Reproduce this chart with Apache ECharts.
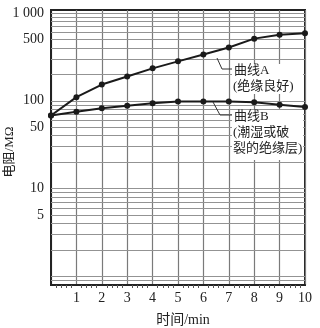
<!DOCTYPE html>
<html><head><meta charset="utf-8">
<script src="https://cdn.jsdelivr.net/npm/echarts@6/dist/echarts.min.js"></script>
<style>html,body{margin:0;padding:0;background:#fff}#c{width:320px;height:328px}</style>
</head><body><div id="c"></div>
<script>
const minutes = [0,1,2,3,4,5,6,7,8,9,10];
const curveA = [68,110,153,189,234,281,337,404,510,565,588];
const curveB = [68,75,82,88,94,98,98,98,96,90,85];
const yLabels = [5,10,50,100,500,1000];
const xLabels = [1,2,3,4,5,6,7,8,9,10];
const gridValues = [0.9,1,2,3,4,5,6,7,8,9,10,20,30,40,50,60,70,80,90,100,200,300,400,500,600,700,800,900,1000];

const serif = "'Liberation Serif','Noto Sans CJK SC',serif";
const chart = echarts.init(document.getElementById('c'), null, {renderer:'canvas'});
const pairs = arr => minutes.map((m,i)=>[m, arr[i]]);
chart.setOption({
  animation:false,
  grid:{left:51, right:15, top:10, bottom:43, containLabel:false, outerBoundsMode:'none',
    show:true, borderColor:'#222', borderWidth:2, backgroundColor:'transparent'},
  xAxis:{type:'value', min:0, max:10, interval:1,
    axisLine:{show:true, lineStyle:{color:'#222', width:2}},
    axisTick:{show:false},
    minorTick:{show:true, splitNumber:5, length:3, lineStyle:{color:'#555'}},
    splitLine:{show:true, lineStyle:{color:'#7a7a7a', width:1.2}},
    axisLabel:{color:'#222', fontFamily:serif, fontSize:14, margin:6,
      customValues:xLabels, formatter:v=>String(v)},
    name:'时间/min', nameLocation:'middle', nameGap:28,
    nameTextStyle:{color:'#222', fontFamily:serif, fontSize:14, padding:[0,0,0,10]}
  },
  yAxis:{type:'log', logBase:10, min:0.8, max:1080,
    axisLine:{show:true, lineStyle:{color:'#222', width:2}},
    axisTick:{show:false},
    splitLine:{show:false},
    axisLabel:{color:'#222', fontFamily:serif, fontSize:14, margin:7,
      customValues:yLabels, formatter:v=> v===1000 ? '1 000' : String(v)}
  },
  series:[
    {type:'line', data:[], silent:true, z:1,
      markLine:{silent:true, symbol:'none', label:{show:false},
        lineStyle:{color:'#939393', width:1.2, type:'solid'},
        data:gridValues.map(v=>({yAxis:v}))}},
    {name:'曲线A', type:'line', data:pairs(curveA), z:5,
      symbol:'circle', symbolSize:6, itemStyle:{color:'#1a1a1a'},
      lineStyle:{color:'#1a1a1a', width:2}},
    {name:'曲线B', type:'line', data:pairs(curveB), z:5,
      symbol:'circle', symbolSize:6, itemStyle:{color:'#1a1a1a'},
      lineStyle:{color:'#1a1a1a', width:2}}
  ],
  graphic:[
    {type:'text', x:10, y:152, rotation:Math.PI/2, style:{text:'电阻/MΩ', font:"13px 'Liberation Serif','Noto Sans CJK SC'", fill:'#222', align:'center', verticalAlign:'middle'}, z:11},
    {type:'polyline', shape:{points:[[217,58],[222,69],[232,69]]}, style:{stroke:'#333', lineWidth:1, fill:null}, z:10},
    {type:'polyline', shape:{points:[[213,102],[220,115],[232,115]]}, style:{stroke:'#333', lineWidth:1, fill:null}, z:10},
    {type:'rect', shape:{x:232,y:64,width:71,height:30}, style:{fill:'#fff'}, z:9},
    {type:'text', left:234, top:64, style:{text:'曲线A', font:"13px 'Liberation Serif','Noto Sans CJK SC'", fill:'#222'}, z:11},
    {type:'text', left:233, top:80, style:{text:'(绝缘良好)', font:"13px 'Liberation Serif','Noto Sans CJK SC'", fill:'#222'}, z:11},
    {type:'rect', shape:{x:232,y:110,width:71,height:50}, style:{fill:'#fff'}, z:9},
    {type:'text', left:234, top:110, style:{text:'曲线B', font:"13px 'Liberation Serif','Noto Sans CJK SC'", fill:'#222'}, z:11},
    {type:'text', left:233, top:126, style:{text:'(潮湿或破', font:"13px 'Liberation Serif','Noto Sans CJK SC'", fill:'#222'}, z:11},
    {type:'text', left:233, top:142, style:{text:'裂的绝缘层)', font:"13px 'Liberation Serif','Noto Sans CJK SC'", fill:'#222'}, z:11}
  ]
});
</script></body></html>
